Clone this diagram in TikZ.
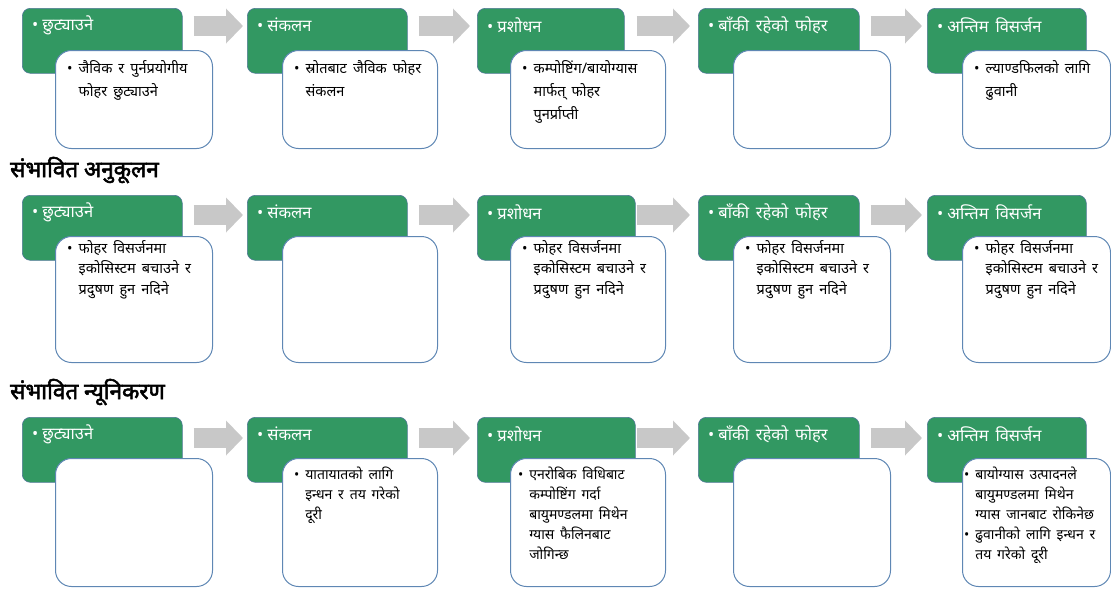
\documentclass[tikz,border=0pt]{standalone}
\usepackage{fontspec}
\newfontfamily\deva[Script=Devanagari, WordSpace=1.6]{Noto Sans}
\newfontfamily\devahead[Script=Devanagari, FakeBold=2.5]{Noto Sans}
\usetikzlibrary{arrows.meta,calc}
\definecolor{hdrgreen}{RGB}{50,152,98}
\definecolor{hdredge}{RGB}{80,120,150}
\definecolor{bodyedge}{RGB}{95,135,180}
\definecolor{arrowgray}{RGB}{200,200,200}
\newcommand\bl{•\ }
\newcommand\hb{•\hspace{4pt}}
\newcommand\ind{\phantom{•\ }}
\newcommand\bodyfont[2]{\deva\fontsize{#1}{#2}\selectfont\lineskiplimit=-100pt\relax}
\begin{document}
\begin{tikzpicture}[x=1pt,y=-1pt,
  hdr/.style={draw=hdredge, line width=0.6pt, fill=hdrgreen, rounded corners=8pt, anchor=north west, inner sep=0, minimum height=65pt},
  bodybox/.style={draw=bodyedge, line width=1pt, fill=white, rounded corners=16pt, anchor=north west, inner sep=0},
  hdrtext/.style={anchor=west, text=white, font=\deva\fontsize{16.5}{18}\selectfont, inner sep=0},
  bodytext/.style={anchor=north west, align=left, inner sep=0},
  flow/.style={draw=arrowgray, line width=20pt, -{Triangle[width=34pt,length=17pt]}},
  heading/.style={anchor=west, font=\devahead\fontsize{22.5}{25}\selectfont, inner sep=0}]
\useasboundingbox (0,0) rectangle (1111,590);

% ---------- row 1 ----------
\node[hdr, minimum width=160pt] (g11) at (22,8) {};
\node[hdr, minimum width=160pt] (g12) at (247,8) {};
\node[hdr, minimum width=147pt] (g13) at (477,8) {};
\node[hdr, minimum width=161pt] (g14) at (698,8) {};
\node[hdr, minimum width=159pt] (g15) at (927,8) {};
\node[bodybox, minimum width=157pt, minimum height=98pt] (w11) at (55,50) {};
\node[bodybox, minimum width=155pt, minimum height=98pt] (w12) at (282,50) {};
\node[bodybox, minimum width=155pt, minimum height=98pt] (w13) at (510,50) {};
\node[bodybox, minimum width=157pt, minimum height=98pt] (w14) at (733,50) {};
\node[bodybox, minimum width=148pt, minimum height=98pt] (w15) at (962,50) {};
\draw[flow] ($(g11.north east)+(11,18)$) -- ($(g12.north west)+(-4,18)$);
\draw[flow] ($(g12.north east)+(11,18)$) -- ($(g13.north west)+(-7,18)$);
\draw[flow] ($(g13.north east)+(12,18)$) -- ($(g14.north west)+(-8,18)$);
\draw[flow] ($(g14.north east)+(11,18)$) -- ($(g15.north west)+(-5,18)$);
\node[hdrtext] (h11) at ($(g11.north west)+(10,17)$) {\hb छुट्याउने};
\node[hdrtext] (h12) at ($(g12.north west)+(10,17)$) {\hb संकलन};
\node[hdrtext] (h13) at ($(g13.north west)+(10,17)$) {\hb प्रशोधन};
\node[hdrtext] (h14) at ($(g14.north west)+(10,17)$) {\hb बाँकी रहेको फोहर};
\node[hdrtext] (h15) at ($(g15.north west)+(10,17)$) {\hb अन्तिम विसर्जन};
\begin{scope}[bodytext/.append style={font=\bodyfont{14.5}{23}}]
\node[bodytext] (t11) at ($(w11.north west)+(12,10)$) {\bl जैविक र पुर्नप्रयोगीय\\\ind फोहर छुट्याउने};
\node[bodytext] (t12) at ($(w12.north west)+(12,10)$) {\bl स्रोतबाट जैविक फोहर\\\ind संकलन};
\node[bodytext] (t13) at ($(w13.north west)+(12,10)$) {\bl कम्पोष्टिंग/बायोग्यास\\\ind मार्फत् फोहर\\\ind पुनर्प्राप्ती};
\node[bodytext] (t15) at ($(w15.north west)+(12,10)$) {\bl ल्याण्डफिलको लागि\\\ind ढुवानी};
\end{scope}

% ---------- row 2 ----------
\node[heading] (s2) at (10,170) {संभावित अनुकूलन};
\node[hdr, minimum width=160pt] (g21) at (22,195) {};
\node[hdr, minimum width=160pt] (g22) at (247,195) {};
\node[hdr, minimum width=158pt] (g23) at (477,195) {};
\node[hdr, minimum width=161pt] (g24) at (698,195) {};
\node[hdr, minimum width=159pt] (g25) at (927,195) {};
\node[bodybox, minimum width=157pt, minimum height=126pt] (w21) at (55,236) {};
\node[bodybox, minimum width=155pt, minimum height=126pt] (w22) at (282,236) {};
\node[bodybox, minimum width=155pt, minimum height=126pt] (w23) at (510,236) {};
\node[bodybox, minimum width=157pt, minimum height=126pt] (w24) at (733,236) {};
\node[bodybox, minimum width=148pt, minimum height=126pt] (w25) at (962,236) {};
\draw[flow] ($(g21.north east)+(11,20)$) -- ($(g22.north west)+(-4,20)$);
\draw[flow] ($(g22.north east)+(11,20)$) -- ($(g23.north west)+(-7,20)$);
\draw[flow] ($(g23.north east)+(1,20)$) -- ($(g24.north west)+(-8,20)$);
\draw[flow] ($(g24.north east)+(11,20)$) -- ($(g25.north west)+(-5,20)$);
\node[hdrtext] (h21) at ($(g21.north west)+(10,17)$) {\hb छुट्याउने};
\node[hdrtext] (h22) at ($(g22.north west)+(10,17)$) {\hb संकलन};
\node[hdrtext] (h23) at ($(g23.north west)+(10,17)$) {\hb प्रशोधन};
\node[hdrtext] (h24) at ($(g24.north west)+(10,17)$) {\hb बाँकी रहेको फोहर};
\node[hdrtext] (h25) at ($(g25.north west)+(10,17)$) {\hb अन्तिम विसर्जन};
\begin{scope}[bodytext/.append style={font=\bodyfont{14.5}{20.5}}]
\node[bodytext] (t21) at ($(w21.north west)+(12,4)$) {\bl फोहर विसर्जनमा\\\ind इकोसिस्टम बचाउने र\\\ind प्रदुषण हुन नदिने};
\node[bodytext] (t23) at ($(w23.north west)+(12,4)$) {\bl फोहर विसर्जनमा\\\ind इकोसिस्टम बचाउने र\\\ind प्रदुषण हुन नदिने};
\node[bodytext] (t24) at ($(w24.north west)+(12,4)$) {\bl फोहर विसर्जनमा\\\ind इकोसिस्टम बचाउने र\\\ind प्रदुषण हुन नदिने};
\node[bodytext] (t25) at ($(w25.north west)+(12,4)$) {\bl फोहर विसर्जनमा\\\ind इकोसिस्टम बचाउने र\\\ind प्रदुषण हुन नदिने};
\end{scope}

% ---------- row 3 ----------
\node[heading] (s3) at (10,392) {संभावित न्यूनिकरण};
\node[hdr, minimum width=160pt] (g31) at (22,417) {};
\node[hdr, minimum width=160pt] (g32) at (247,417) {};
\node[hdr, minimum width=158pt] (g33) at (477,417) {};
\node[hdr, minimum width=161pt] (g34) at (698,417) {};
\node[hdr, minimum width=159pt] (g35) at (927,417) {};
\node[bodybox, minimum width=157pt, minimum height=128pt] (w31) at (55,458) {};
\node[bodybox, minimum width=155pt, minimum height=128pt] (w32) at (282,458) {};
\node[bodybox, minimum width=155pt, minimum height=128pt] (w33) at (510,458) {};
\node[bodybox, minimum width=157pt, minimum height=128pt] (w34) at (733,458) {};
\node[bodybox, minimum width=148pt, minimum height=128pt] (w35) at (962,458) {};
\draw[flow] ($(g31.north east)+(11,21)$) -- ($(g32.north west)+(-4,21)$);
\draw[flow] ($(g32.north east)+(11,21)$) -- ($(g33.north west)+(-7,21)$);
\draw[flow] ($(g33.north east)+(1,21)$) -- ($(g34.north west)+(-8,21)$);
\draw[flow] ($(g34.north east)+(11,21)$) -- ($(g35.north west)+(-5,21)$);
\node[hdrtext] (h31) at ($(g31.north west)+(10,17)$) {\hb छुट्याउने};
\node[hdrtext] (h32) at ($(g32.north west)+(10,17)$) {\hb संकलन};
\node[hdrtext] (h33) at ($(g33.north west)+(10,17)$) {\hb प्रशोधन};
\node[hdrtext] (h34) at ($(g34.north west)+(10,17)$) {\hb बाँकी रहेको फोहर};
\node[hdrtext] (h35) at ($(g35.north west)+(10,17)$) {\hb अन्तिम विसर्जन};
\begin{scope}[bodytext/.append style={font=\bodyfont{14}{20}}]
\node[bodytext] (t32) at ($(w32.north west)+(12,9)$) {\bl यातायातको लागि\\\ind इन्धन र तय गरेको\\\ind दूरी};
\node[bodytext] (t33) at ($(w33.north west)+(8,9)$) {\bl एनरोबिक विधिबाट\\\ind कम्पोष्टिंग गर्दा\\\ind बायुमण्डलमा मिथेन\\\ind ग्यास फैलिनबाट\\\ind जोगिन्छ};
\node[bodytext] (t35) at ($(w35.north west)+(2,9)$) {\bl बायोग्यास उत्पादनले\\\ind बायुमण्डलमा मिथेन\\\ind ग्यास जानबाट रोकिनेछ\\\bl ढुवानीको लागि इन्धन र\\\ind तय गरेको दूरी};
\end{scope}
\end{tikzpicture}
\end{document}
